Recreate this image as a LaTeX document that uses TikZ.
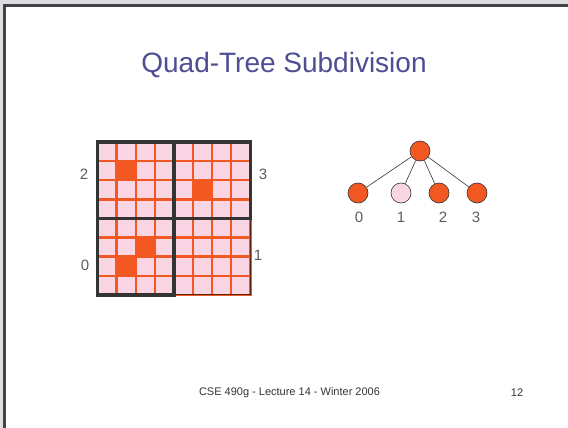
\documentclass[tikz,border=0pt]{standalone}
\usepackage{fontspec}
\setmainfont{Liberation Sans}
\usetikzlibrary{positioning}
\definecolor{naranja}{RGB}{241,88,34}
\definecolor{rosa}{RGB}{250,214,228}
\definecolor{oscuro}{RGB}{52,52,52}
\definecolor{marco}{RGB}{66,66,72}
\definecolor{fondo}{RGB}{222,222,224}
\definecolor{titulo}{RGB}{78,78,148}
\colorlet{borde}{naranja!40!black}

\tikzset{
  hoja/.style={circle,draw=oscuro,line width=0.6pt,minimum size=20pt,inner sep=0pt},
  etiqueta/.style={font=\fontsize{15}{15}\selectfont,text=oscuro!80,inner sep=0pt},
  pie/.style={font=\fontsize{11}{13}\selectfont,text=oscuro,inner sep=0pt}
}

\begin{document}
\begin{tikzpicture}[x=1pt,y=-1pt]
  \useasboundingbox (0,0) rectangle (568,428);
  \fill[fondo] (0,0) rectangle (568,428);
  \fill[white] (3,4) rectangle (568,428);
  \draw[marco,line width=3pt] (4.5,428) -- (4.5,5.5) -- (568,5.5);

  \node[font=\fontsize{28}{30}\selectfont,text=titulo,anchor=base] (titulo) at (284,73) {Quad-Tree Subdivision};

  % grid 8x8, subdividido
  \begin{scope}[shift={(97.5,142)},x=19.1pt,y=-19.1pt]
    \foreach \x in {0,...,7} \foreach \y in {0,...,7}
      \draw[naranja,line width=2.4pt,fill=rosa] (\x,\y) rectangle ++(1,1);
    \foreach \x/\y in {1/1,5/2,2/5,1/6}
      \fill[naranja] (\x,\y) rectangle ++(1,1);
    \draw[borde,line width=0.8pt] (4,4) rectangle (8,8);
    \draw[oscuro,line width=3.5pt] (0,0) rectangle (4,4) (4,0) rectangle (8,4) (0,4) rectangle (4,8);
  \end{scope}
  \node[etiqueta] (c2) at (84,174) {2};
  \node[etiqueta] (c3) at (263,174) {3};
  \node[etiqueta] (c0) at (85,265) {0};
  \node[etiqueta] (c1) at (258,255) {1};

  % arbol
  \node[hoja,fill=naranja] (raiz) at (420,151) {};
  \node[hoja,fill=naranja] (h0) at (358,193) {};
  \node[hoja,fill=rosa] (h1) at (401,193) {};
  \node[hoja,fill=naranja] (h2) at (439,193) {};
  \node[hoja,fill=naranja] (h3) at (477,193) {};
  \foreach \h in {h0,h1,h2,h3}
    \draw[oscuro,line width=0.6pt] (raiz) -- (\h);
  \node[etiqueta] (e0) at (359,217) {0};
  \node[etiqueta] (e1) at (401,217) {1};
  \node[etiqueta] (e2) at (443,217) {2};
  \node[etiqueta] (e3) at (476,217) {3};

  \node[pie] (curso) at (289.5,393) {CSE 490g - Lecture 14 - Winter 2006};
  \node[pie] (pagina) at (517,393) {12};
\end{tikzpicture}
\end{document}
